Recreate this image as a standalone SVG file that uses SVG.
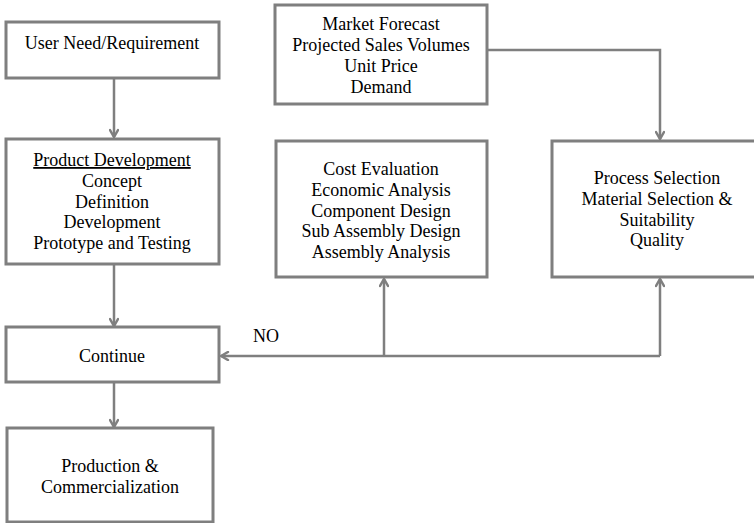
<svg xmlns="http://www.w3.org/2000/svg" width="754" height="523" viewBox="0 0 754 523">
  <defs>
    <style>
      .box { fill: #ffffff; stroke: #7f7f7f; stroke-width: 3; }
      .wire { fill: none; stroke: #7f7f7f; stroke-width: 2.5; }
      .head { fill: none; stroke: #7f7f7f; stroke-width: 2.5; stroke-linecap: round; stroke-linejoin: miter; }
      text { font-family: "Liberation Serif", "Times New Roman", serif; font-size: 18px; fill: #000000; text-anchor: middle; }
    </style>
    <marker id="arrow" viewBox="0 0 10 10" refX="9" refY="5" markerWidth="10" markerHeight="10" markerUnits="userSpaceOnUse" orient="auto">
      <path class="head" d="M2,1 L9,5 L2,9" stroke-width="2"/>
    </marker>
  </defs>

  <rect width="754" height="523" fill="#ffffff"/>

  <!-- connectors -->
  <g id="connectors">
    <path class="wire" d="M114,78 V137" marker-end="url(#arrow)"/>
    <path class="wire" d="M114,264 V326" marker-end="url(#arrow)"/>
    <path class="wire" d="M114,382 V427" marker-end="url(#arrow)"/>
    <path class="wire" d="M487,50 H660 V139" marker-end="url(#arrow)"/>
    <path class="wire" d="M660,356 H221" marker-end="url(#arrow)"/>
    <path class="wire" d="M384,356 V279" marker-end="url(#arrow)"/>
    <path class="wire" d="M660,356 V279" marker-end="url(#arrow)"/>
    <text x="266" y="342">NO</text>
  </g>

  <g id="user-need">
    <rect class="box" x="6" y="22" width="213" height="56"/>
    <text x="112" y="49">User Need/Requirement</text>
  </g>

  <g id="product-development">
    <rect class="box" x="6" y="139" width="213" height="125"/>
    <text x="112" y="166" text-decoration="underline">Product Development</text>
    <text x="112" y="187">Concept</text>
    <text x="112" y="208">Definition</text>
    <text x="112" y="228">Development</text>
    <text x="112" y="249">Prototype and Testing</text>
  </g>

  <g id="continue">
    <rect class="box" x="6" y="327" width="213" height="55"/>
    <text x="112" y="362">Continue</text>
  </g>

  <g id="production">
    <rect class="box" x="7" y="428" width="206" height="94"/>
    <text x="110" y="472">Production &amp;</text>
    <text x="110" y="493">Commercialization</text>
  </g>

  <g id="market-forecast">
    <rect class="box" x="275" y="5" width="212" height="99"/>
    <text x="381" y="30">Market Forecast</text>
    <text x="381" y="51">Projected Sales Volumes</text>
    <text x="381" y="72">Unit Price</text>
    <text x="381" y="93">Demand</text>
  </g>

  <g id="cost-evaluation">
    <rect class="box" x="276" y="141" width="211" height="136"/>
    <text x="381" y="175">Cost Evaluation</text>
    <text x="381" y="196">Economic Analysis</text>
    <text x="381" y="217">Component Design</text>
    <text x="381" y="237">Sub Assembly Design</text>
    <text x="381" y="258">Assembly Analysis</text>
  </g>

  <g id="process-selection">
    <rect class="box" x="552" y="141" width="220" height="136"/>
    <text x="657" y="184">Process Selection</text>
    <text x="657" y="205">Material Selection &amp;</text>
    <text x="657" y="226">Suitability</text>
    <text x="657" y="246">Quality</text>
  </g>
</svg>
